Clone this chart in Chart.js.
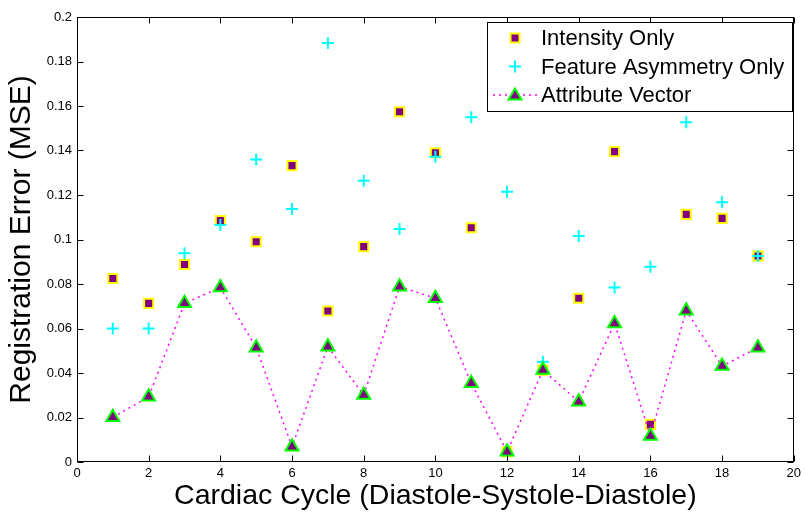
<!DOCTYPE html>
<html>
<head>
  <title>Registration Error</title>
  <script src="https://cdn.jsdelivr.net/npm/chart.js"></script>
  <style>
    html, body { margin: 0; padding: 0; background: #fff; }
    #wrap { width: 805px; height: 513px; }
  </style>
</head>
<body>
  <div id="wrap"><canvas id="errChart"></canvas></div>

  <script>
    // data
    const cycles = [1, 2, 3, 4, 5, 6, 7, 8, 9, 10, 11, 12, 13, 14, 15, 16, 17, 18, 19];
    const intensityOnly = [0.0825, 0.0713, 0.0888, 0.1085, 0.0990, 0.1332, 0.0679, 0.0968, 0.1574, 0.1390,
                           0.1053, 0.0046, 0.0413, 0.0736, 0.1395, 0.0169, 0.1113, 0.1095, 0.0926];
    const featureAsymOnly = [0.0600, 0.0600, 0.0938, 0.1065, 0.1360, 0.1137, 0.1883, 0.1264, 0.1047, 0.1372,
                             0.1550, 0.1215, 0.0451, 0.1016, 0.0784, 0.0878, 0.1527, 0.1167, 0.0926];
    const attributeVector = [0.0201, 0.0293, 0.0713, 0.0784, 0.0514, 0.0069, 0.0518, 0.0301, 0.0788, 0.0736,
                             0.0354, 0.0046, 0.0413, 0.0271, 0.0623, 0.0117, 0.0680, 0.0431, 0.0514];
    const xTicks = [0, 2, 4, 6, 8, 10, 12, 14, 16, 18, 20];
    const yTicks = [0, 0.02, 0.04, 0.06, 0.08, 0.1, 0.12, 0.14, 0.16, 0.18, 0.2];
    const seriesNames = ['Intensity Only', 'Feature Asymmetry Only', 'Attribute Vector'];

    const FONT = '"Liberation Sans", Arial, Helvetica, sans-serif';
    const toPoints = vals => cycles.map((c, i) => ({ x: c, y: vals[i] }));

    // ====================
    // MATLAB style box, inward ticks and legend
    // ====================
    const boxPlugin = {
      id: 'matlabBox',
      afterDraw(chart) {
        const { ctx, chartArea: a, scales: { x, y } } = chart;
        const L = Math.round(a.left) + 0.5, R = Math.round(a.right) - 0.5;
        const T = Math.round(a.top) + 0.5, B = Math.round(a.bottom) - 0.5;
        ctx.save();
        ctx.strokeStyle = '#000';
        ctx.lineWidth = 1;
        ctx.beginPath();
        xTicks.forEach(v => {
          const px = Math.round(x.getPixelForValue(v)) + 0.5;
          ctx.moveTo(px, B); ctx.lineTo(px, B - 6);
          ctx.moveTo(px, T); ctx.lineTo(px, T + 6);
        });
        yTicks.forEach(v => {
          const py = Math.round(y.getPixelForValue(v)) + 0.5;
          ctx.moveTo(L, py); ctx.lineTo(L + 6, py);
          ctx.moveTo(R, py); ctx.lineTo(R - 6, py);
        });
        ctx.stroke();
        ctx.strokeRect(L, T, R - L, B - T);

        // legend
        const lx = 487.5, ly = 22.5, lw = 305, lh = 89;
        ctx.fillStyle = '#fff';
        ctx.fillRect(lx, ly, lw, lh);
        ctx.strokeRect(lx, ly, lw, lh);
        const rows = [38, 66.5, 95];
        const mx = 515;
        // Intensity Only
        ctx.fillStyle = '#800080';
        ctx.strokeStyle = '#ffff00';
        ctx.lineWidth = 2;
        ctx.fillRect(mx - 4.5, rows[0] - 4.5, 9, 9);
        ctx.strokeRect(mx - 4.5, rows[0] - 4.5, 9, 9);
        // Feature Asymmetry Only
        ctx.strokeStyle = '#00ffff';
        ctx.beginPath();
        ctx.moveTo(mx - 6, rows[1]); ctx.lineTo(mx + 6, rows[1]);
        ctx.moveTo(mx, rows[1] - 6); ctx.lineTo(mx, rows[1] + 6);
        ctx.stroke();
        // Attribute Vector
        ctx.strokeStyle = '#ff00ff';
        ctx.lineWidth = 1.5;
        ctx.setLineDash([2, 4]);
        ctx.beginPath();
        ctx.moveTo(493, rows[2]); ctx.lineTo(537, rows[2]);
        ctx.stroke();
        ctx.setLineDash([]);
        ctx.strokeStyle = '#00ff00';
        ctx.fillStyle = '#800080';
        ctx.lineWidth = 2;
        ctx.beginPath();
        ctx.moveTo(mx, rows[2] - 6.5);
        ctx.lineTo(mx + 6.5, rows[2] + 4.5);
        ctx.lineTo(mx - 6.5, rows[2] + 4.5);
        ctx.closePath();
        ctx.fill(); ctx.stroke();

        ctx.fillStyle = '#000';
        ctx.font = '22px ' + FONT;
        ctx.textBaseline = 'middle';
        ctx.textAlign = 'left';
        seriesNames.forEach((name, i) => ctx.fillText(name, 541, rows[i] + 1));
        ctx.restore();
      }
    };

    new Chart(document.getElementById('errChart'), {
      type: 'scatter',
      data: {
        datasets: [{
          label: seriesNames[0],
          data: toPoints(intensityOnly),
          pointStyle: 'rect',
          pointRadius: 6.4,
          pointBorderWidth: 2,
          borderColor: '#ffff00',
          backgroundColor: '#800080',
          order: 2
        }, {
          label: seriesNames[1],
          data: toPoints(featureAsymOnly),
          pointStyle: 'cross',
          pointRadius: 6,
          pointBorderWidth: 2,
          borderColor: '#00ffff',
          backgroundColor: '#00ffff',
          order: 1
        }, {
          label: seriesNames[2],
          data: toPoints(attributeVector),
          showLine: true,
          borderColor: '#ff00ff',
          borderWidth: 1.5,
          borderDash: [2, 4],
          pointStyle: 'triangle',
          pointRadius: 7.5,
          pointBorderWidth: 2,
          pointBorderColor: '#00ff00',
          pointBackgroundColor: '#800080',
          order: 0
        }]
      },
      options: {
        responsive: true,
        maintainAspectRatio: false,
        animation: false,
        layout: { padding: { top: 17, right: 9, left: 0, bottom: 0 } },
        plugins: {
          legend: { display: false },
          tooltip: { enabled: false }
        },
        scales: {
          x: {
            type: 'linear',
            min: 0,
            max: 20,
            afterFit: s => { s.height = 51; },
            afterBuildTicks: s => { s.ticks = xTicks.map(v => ({ value: v })); },
            grid: { display: false, drawTicks: false },
            border: { display: false },
            ticks: { color: '#000', padding: 4, font: { family: FONT, size: 13 } },
            title: {
              display: true,
              text: 'Cardiac Cycle (Diastole-Systole-Diastole)',
              color: '#000',
              padding: { top: 0, bottom: 0 },
              font: { family: FONT, size: 28.5 }
            }
          },
          y: {
            type: 'linear',
            min: 0,
            max: 0.2,
            afterFit: s => { s.width = 77; },
            afterBuildTicks: s => { s.ticks = yTicks.map(v => ({ value: v })); },
            grid: { display: false, drawTicks: false },
            border: { display: false },
            ticks: {
              color: '#000',
              padding: 5,
              font: { family: FONT, size: 13 },
              callback: v => String(+v.toFixed(2))
            },
            title: {
              display: true,
              text: 'Registration Error (MSE)',
              color: '#000',
              padding: { top: 4, bottom: 0 },
              font: { family: FONT, size: 30 }
            }
          }
        }
      },
      plugins: [boxPlugin]
    });
  </script>
</body>
</html>
